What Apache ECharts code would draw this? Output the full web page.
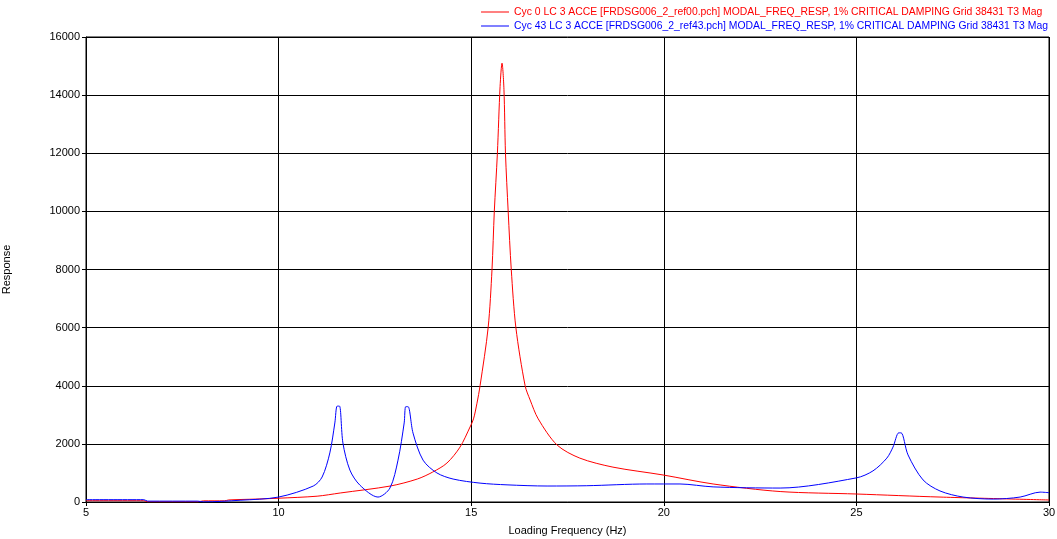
<!DOCTYPE html>
<html lang="en">
<head>
    <meta charset="UTF-8">
    <title>Modal frequency response</title>
    <style>
        html, body { margin: 0; padding: 0; background: #fff; }
        #chart { width: 1057px; height: 539px; }
    </style>
</head>
<body>
<div id="chart"></div>
<script src="https://cdn.jsdelivr.net/npm/echarts@6/dist/echarts.min.js"></script>
<script>
    var redName = 'Cyc 0 LC 3 ACCE [FRDSG006_2_ref00.pch] MODAL_FREQ_RESP, 1% CRITICAL DAMPING Grid 38431 T3 Mag';
    var blueName = 'Cyc 43 LC 3 ACCE [FRDSG006_2_ref43.pch] MODAL_FREQ_RESP, 1% CRITICAL DAMPING Grid 38431 T3 Mag';

    var redFreq = [5, 6.5, 6.6, 7.9, 8.05, 8.6, 8.7, 9.4, 10, 11, 11.6, 12.9, 13.6, 14, 14.37, 14.71, 14.97, 15.06, 15.15, 15.23,
        15.44, 15.54, 15.6, 15.68, 15.75, 15.8, 15.85, 15.89, 15.96, 16.04, 16.16, 16.4, 16.53, 16.74, 17.23, 17.82, 18.68,
        19.98, 21.28, 23.02, 25, 27.17, 30];
    var redResp = [45, 45, 5, 5, 40, 40, 70, 100, 130, 200, 310, 550, 790, 1030, 1340, 1890, 2580, 2860, 3400, 4000,
        6000, 8000, 10000, 12000, 14300, 15100, 14200, 12000, 10000, 8000, 6000, 4000, 3510, 2860, 1960, 1510, 1200,
        930, 620, 360, 275, 170, 70];

    var blueFreq = [5, 6.5, 6.6, 7.9, 8.05, 9, 10, 10.9, 11.13, 11.33, 11.46, 11.52, 11.58, 11.67, 11.85, 12.11, 12.58, 12.89,
        13.1, 13.26, 13.3, 13.36, 13.49, 13.75, 14.11, 14.53, 15.23, 15.93, 16.97, 18, 19.56, 20.42, 21.28, 23.02, 25,
        25.43, 25.79, 25.95, 26.1, 26.16, 26.34, 26.73, 27.17, 27.77, 28.55, 29.25, 29.77, 30];
    var blueResp = [80, 80, 30, 30, 5, 60, 170, 550, 860, 1690, 2720, 3300, 3300, 2030, 1100, 580, 170, 480,
        1440, 2720, 3280, 3280, 2370, 1440, 1000, 790, 650, 590, 550, 560, 620, 620, 520, 480, 830,
        1070, 1510, 1890, 2380, 2380, 1620, 760, 380, 170, 100, 170, 340, 320];

    function pairs(xs, ys) {
        var out = [];
        for (var i = 0; i < xs.length; i++) out.push([xs[i], ys[i]]);
        return out;
    }

    var myChart = echarts.init(document.getElementById('chart'));
    var font = 'Liberation Sans, Arial, sans-serif';
    var option = {
        backgroundColor: '#fff',
        animation: false,
        textStyle: { fontFamily: font },
        grid: {
            left: 86, right: 8, top: 37, bottom: 37,
            containLabel: false,
            outerBoundsMode: 'none',
            show: true, borderColor: '#000', borderWidth: 1
        },
        legend: {
            orient: 'vertical',
            right: 4, top: 2,
            align: 'left',
            itemGap: 4,
            itemWidth: 28,
            itemHeight: 12,
            icon: 'path://M0,5.5 L28,5.5 L28,6.5 L0,6.5 Z',
            textStyle: { fontSize: 10.4, fontFamily: font },
            data: [
                { name: redName, textStyle: { color: '#ff0000' } },
                { name: blueName, textStyle: { color: '#0000ff' } }
            ]
        },
        xAxis: {
            type: 'value',
            min: 5, max: 30, interval: 5,
            name: 'Loading Frequency (Hz)',
            nameLocation: 'middle',
            nameGap: 23,
            nameTextStyle: { color: '#000', fontSize: 11, fontFamily: font },
            axisLine: { lineStyle: { color: '#000', width: 1 } },
            axisTick: { show: true, length: 4, lineStyle: { color: '#000' } },
            axisLabel: { color: '#000', fontSize: 11, margin: 5, fontFamily: font },
            splitLine: { show: true, lineStyle: { color: '#000', width: 1 } }
        },
        yAxis: {
            type: 'value',
            min: 0, max: 16000, interval: 2000,
            name: 'Response',
            nameLocation: 'middle',
            nameGap: 74,
            nameRotate: 90,
            nameTextStyle: { color: '#000', fontSize: 11, fontFamily: font },
            axisLine: { show: true, lineStyle: { color: '#000', width: 1 } },
            axisTick: { show: true, length: 4, lineStyle: { color: '#000' } },
            axisLabel: {
                color: '#000', fontSize: 11, margin: 6, fontFamily: font,
                formatter: function (v) { return String(v); }
            },
            splitLine: { show: true, lineStyle: { color: '#000', width: 1 } }
        },
        series: [
            {
                name: redName,
                type: 'line',
                showSymbol: false,
                smooth: 0.3,
                color: '#ff0000',
                lineStyle: { width: 1, color: '#ff0000' },
                data: pairs(redFreq, redResp)
            },
            {
                name: blueName,
                type: 'line',
                showSymbol: false,
                smooth: 0.3,
                color: '#0000ff',
                lineStyle: { width: 1, color: '#0000ff' },
                data: pairs(blueFreq, blueResp)
            }
        ]
    };
    myChart.setOption(option);
</script>
</body>
</html>
